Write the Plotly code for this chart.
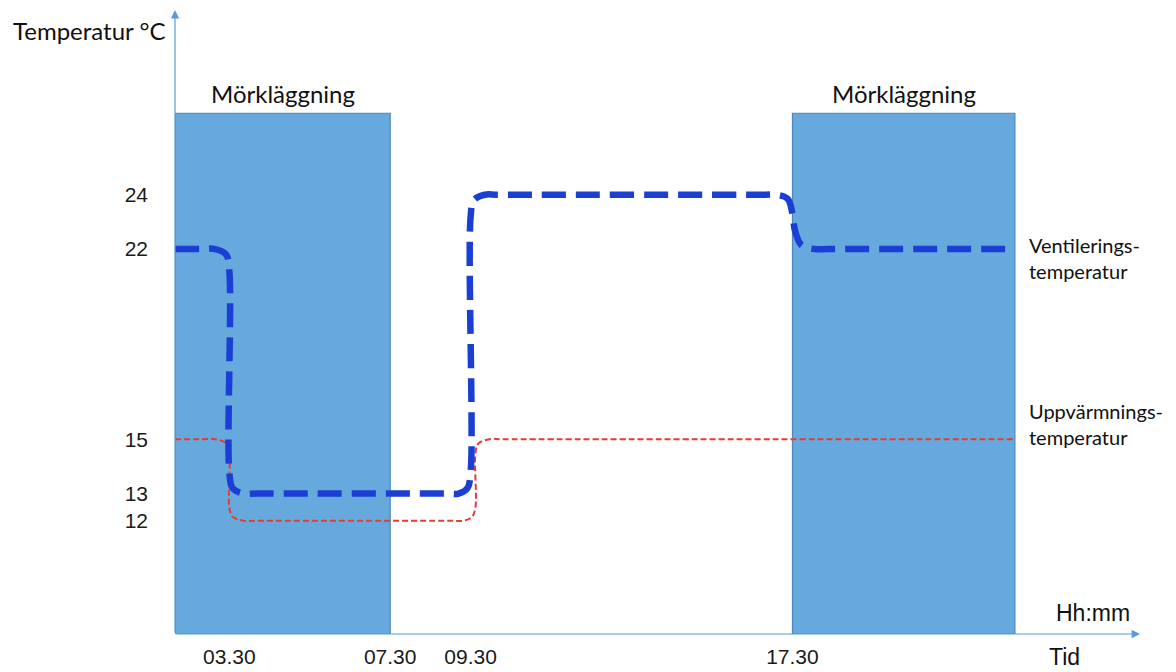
import plotly.graph_objects as go

# Time in hours (03.30 -> 3.5), temperature in °C
tick_times = [3.5, 7.5, 9.5, 17.5]
tick_labels = ["03.30", "07.30", "09.30", "17.30"]
temp_ticks = [12, 13, 15, 22, 24]

# Blackout (Mörkläggning) periods
dark_start = [2.15, 17.5]
dark_end = [7.5, 23.03]
dark_top = 27.0

# Ventilation set-point (rounded step curve)
vent_t = [2.15, 2.8, 3.15, 3.42, 3.5, 3.5, 3.58, 3.85, 4.2, 8.85, 9.2, 9.42, 9.5,
          9.5, 9.58, 9.85, 10.2, 16.75, 17.1, 17.38, 17.5, 17.56, 17.72, 18.05, 18.4, 23.03]
vent_v = [22, 22, 22, 21.8, 21.2, 13.8, 13.2, 13.0, 13.0, 13.0, 13.0, 13.2, 13.8,
          23.2, 23.8, 24.0, 24.0, 24.0, 24.0, 23.85, 23.3, 22.7, 22.15, 22.0, 22.0, 22.0]

# Heating set-point (rounded step curve)
heat_t = [2.15, 2.8, 3.15, 3.42, 3.5, 3.5, 3.58, 3.85, 4.2, 8.97, 9.32, 9.54, 9.62,
          9.62, 9.7, 9.97, 10.32, 23.03]
heat_v = [15, 15, 15, 14.85, 14.5, 12.5, 12.15, 12.0, 12.0, 12.0, 12.0, 12.15, 12.5,
          14.5, 14.85, 15.0, 15.0, 15.0]

x_range = [2.15, 26.14]
y_range = [7.83, 30.8]

axis_col = "#5b9bd5"
text_font = "Lato"
num_font = "Liberation Sans"

fig = go.Figure()

fig.add_trace(go.Scatter(
    x=heat_t, y=heat_v, mode="lines",
    line=dict(color="#ea3b32", width=2, dash="6px,3px", shape="spline", smoothing=1),
    hoverinfo="skip", showlegend=False,
))
fig.add_trace(go.Scatter(
    x=vent_t, y=vent_v, mode="lines",
    line=dict(color="#1b3fd4", width=6.5, dash="24px,10px", shape="spline", smoothing=1),
    hoverinfo="skip", showlegend=False,
))

shapes = []
annotations = []
for x0, x1 in zip(dark_start, dark_end):
    shapes.append(dict(type="rect", xref="x", yref="y", x0=x0, x1=x1,
                       y0=y_range[0], y1=dark_top, layer="below",
                       fillcolor="#66a9dc", line=dict(color="#4f87b8", width=1.2)))
    annotations.append(dict(x=(x0 + x1) / 2, y=dark_top, xref="x", yref="y",
                            text="Mörkläggning", showarrow=False,
                            yanchor="bottom", yshift=3,
                            font=dict(family=text_font, size=24, color="#111")))

# Axis arrows
annotations.append(dict(x=x_range[1], y=y_range[0], ax=x_range[0], ay=y_range[0],
                        xref="x", yref="y", axref="x", ayref="y", text="",
                        showarrow=True, arrowhead=2, arrowsize=1.4, arrowwidth=1.2,
                        arrowcolor=axis_col))
annotations.append(dict(x=x_range[0], y=y_range[1], ax=x_range[0], ay=y_range[0],
                        xref="x", yref="y", axref="x", ayref="y", text="",
                        showarrow=True, arrowhead=2, arrowsize=1.4, arrowwidth=1.2,
                        arrowcolor=axis_col))

# Series labels
annotations.append(dict(x=vent_t[-1], y=vent_v[-1], xref="x", yref="y",
                        text="Ventilerings-<br>temperatur", showarrow=False,
                        xanchor="left", yanchor="top", xshift=12, yshift=18, align="left",
                        font=dict(family=text_font, size=20, color="#111")))
annotations.append(dict(x=heat_t[-1], y=heat_v[-1], xref="x", yref="y",
                        text="Uppvärmnings-<br>temperatur", showarrow=False,
                        xanchor="left", yanchor="top", xshift=12, yshift=42, align="left",
                        font=dict(family=text_font, size=20, color="#111")))

# Axis titles
annotations.append(dict(x=0, y=1.0, xref="paper", yref="paper", xanchor="left",
                        yanchor="middle", xshift=-175 + 11, yshift=-20,
                        text="Temperatur °C", showarrow=False,
                        font=dict(family=text_font, size=24, color="#111")))
annotations.append(dict(x=x_range[1], y=y_range[0], xref="x", yref="y",
                        xanchor="right", yanchor="bottom", xshift=-8, yshift=6,
                        text="Hh:mm", showarrow=False,
                        font=dict(family=num_font, size=23, color="#111")))
annotations.append(dict(x=x_range[1], y=y_range[0], xref="x", yref="y",
                        xanchor="right", yanchor="top", xshift=-58, yshift=-8,
                        text="Tid", showarrow=False,
                        font=dict(family=num_font, size=23, color="#111")))

fig.update_layout(
    width=1176, height=672,
    margin=dict(l=175, r=36, t=10, b=38),
    paper_bgcolor="white", plot_bgcolor="white",
    shapes=shapes, annotations=annotations,
    xaxis=dict(range=x_range, showgrid=False, zeroline=False, showline=False,
               automargin=False,
               tickmode="array", tickvals=tick_times, ticktext=tick_labels,
               ticks="", ticklabelstandoff=8,
               tickfont=dict(family=num_font, size=21, color="#1a1a1a")),
    yaxis=dict(range=y_range, showgrid=False, zeroline=False, showline=False,
               automargin=False,
               tickmode="array", tickvals=temp_ticks, ticktext=[str(v) for v in temp_ticks],
               ticks="", ticklabelstandoff=26,
               tickfont=dict(family=num_font, size=21, color="#1a1a1a")),
)

fig.write_html("out.html")
